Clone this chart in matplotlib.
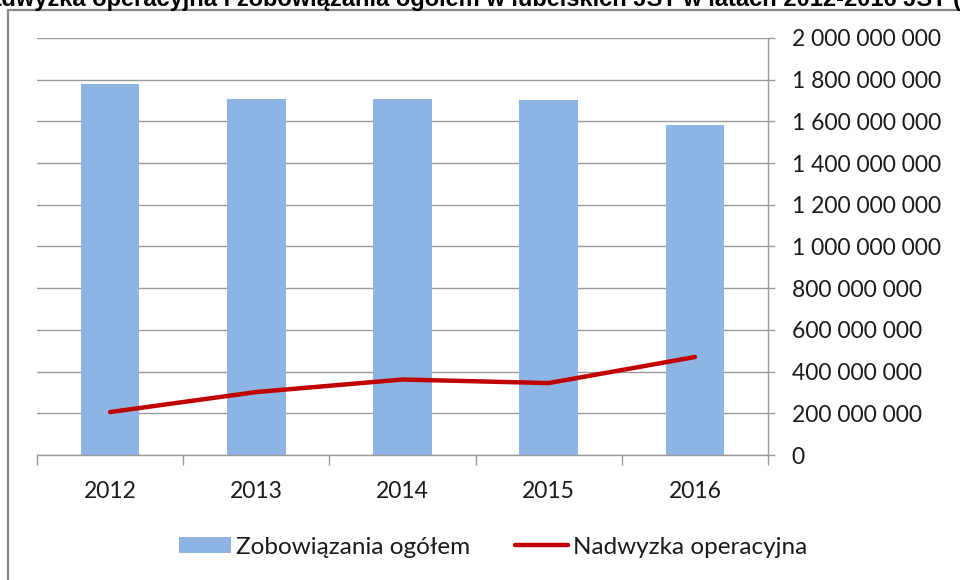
import matplotlib
matplotlib.use("Agg")
import matplotlib.pyplot as plt
from matplotlib.patches import Rectangle
from matplotlib.ticker import FuncFormatter, FixedLocator
import numpy as np

years = ["2012", "2013", "2014", "2015", "2016"]
zobowiazania = [1.780e9, 1.708e9, 1.708e9, 1.703e9, 1.585e9]
nadwyzka = [2.06e8, 3.02e8, 3.62e8, 3.45e8, 4.70e8]

title = ("Nadwyżka operacyjna i zobowiązania ogółem w lubelskich JST "
         "w latach 2012-2016 JST (zł)")

W, H = 960, 580
fig = plt.figure(figsize=(W / 100, H / 100), dpi=100)
fig.patch.set_facecolor("white")

# chart area frame (runs off the right and bottom edges)
fig.patches.append(Rectangle((8 / W, -0.05), 1.1, 1 - 10 / H + 0.05,
                             transform=fig.transFigure, fill=False,
                             edgecolor="#878787", linewidth=1.6, zorder=0))

ax = fig.add_axes([37 / W, 1 - 455 / H, (768 - 37) / W, (455 - 38) / H])
x = np.arange(len(years))

bars = ax.bar(x, zobowiazania, width=0.40, color="#8EB4E3", zorder=2,
              label="Zobowiązania ogółem")
line, = ax.plot(x, nadwyzka, color="#C00000", linewidth=3.2,
                solid_capstyle="round", solid_joinstyle="round", zorder=3,
                label="Nadwyzka operacyjna")

ax.set_xlim(-0.5, len(years) - 0.5)
ax.set_ylim(0, 2e9)

grid_c = "#9A9A9A"
ax.yaxis.tick_right()
ax.yaxis.set_major_locator(FixedLocator(np.arange(0, 2.0e9 + 1, 2e8)))
ax.yaxis.set_major_formatter(
    FuncFormatter(lambda v, p: f"{int(round(v)):,}".replace(",", " ")))
ax.grid(axis="y", color=grid_c, linewidth=1.0, zorder=0)
ax.set_axisbelow(True)

ax.set_xticks(x)
ax.set_xticklabels(years)
ax.set_xticks(np.arange(-0.5, len(years)), minor=True)
ax.tick_params(axis="x", which="major", length=0, pad=18.5)
ax.tick_params(axis="x", which="minor", length=7, width=1.0, color=grid_c,
               direction="out")
ax.tick_params(axis="y", length=5, width=1.0, color=grid_c, pad=12)

for lab in ax.get_xticklabels() + ax.get_yticklabels():
    lab.set_fontfamily("Lato")
    lab.set_fontsize(16.5)
    lab.set_color("#1A1A1A")

for side in ("left", "top"):
    ax.spines[side].set_visible(False)
for side in ("right", "bottom"):
    ax.spines[side].set_color(grid_c)
    ax.spines[side].set_linewidth(1.0)

fig.legend([bars, line], ["Zobowiązania ogółem", "Nadwyzka operacyjna"],
           loc="center", bbox_to_anchor=(493 / W, 1 - 547 / H), ncol=2,
           frameon=False, prop={"family": "Lato", "size": 17.5},
           handlelength=2.15, handletextpad=0.2, columnspacing=1.85,
           handleheight=0.65, labelcolor="#1A1A1A")

# title sits mostly above the canvas; shift so "Nadwyżka" starts off-screen
title_size = 17.0
renderer = fig.canvas.get_renderer()
probe = fig.text(0, 0, "Na", fontfamily="Liberation Sans", fontweight="bold",
                 fontsize=title_size)
shift = probe.get_window_extent(renderer).width
probe.remove()
fig.text((-shift + 1) / W, 1 - 6 / H, title, fontfamily="Liberation Sans",
         fontweight="bold", fontsize=title_size, color="black", ha="left",
         va="baseline")

fig.savefig("out.png", dpi=100, facecolor="white")
